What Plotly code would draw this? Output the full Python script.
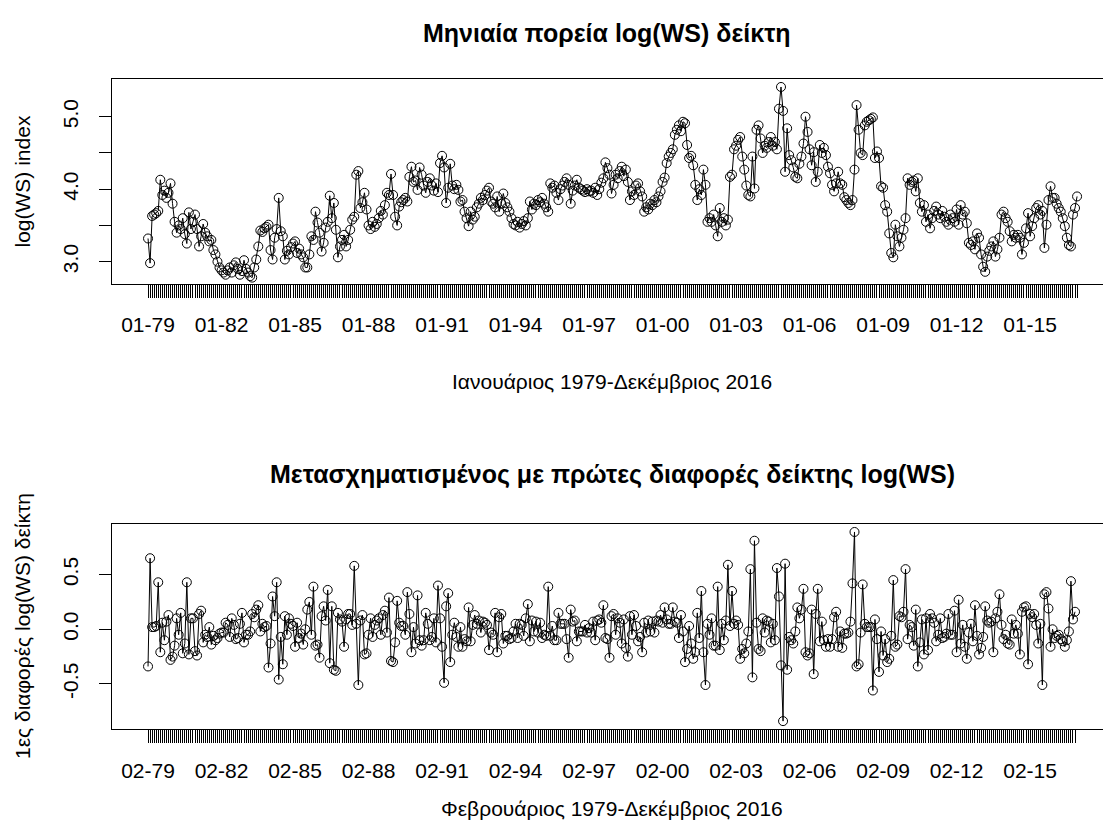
import numpy as np
import plotly.graph_objects as go

# Monthly log(WS) index, Jan 1979 - Dec 2016 (one row per year)
log_ws = [
    3.32, 2.98, 3.63, 3.65, 3.67, 3.70, 4.13, 3.92, 3.98, 3.88, 3.95, 4.08,  # 1979
    3.80, 3.55, 3.40, 3.50, 3.45, 3.60, 3.38, 3.25, 3.68, 3.45, 3.55, 3.65,  # 1980
    3.45, 3.21, 3.35, 3.52, 3.40, 3.35, 3.28, 3.30, 3.16, 3.10, 3.00, 2.92,  # 1981
    2.88, 2.85, 2.82, 2.88, 2.92, 2.85, 2.95, 2.99, 2.90, 2.82, 2.87, 3.02,  # 1982
    2.90, 2.85, 2.80, 2.78, 2.92, 3.03, 3.21, 3.43, 3.41, 3.46, 3.48, 3.51,  # 1983
    3.16, 3.03, 3.33, 3.45, 3.88, 3.42, 3.35, 3.03, 3.15, 3.10, 3.20, 3.25,  # 1984
    3.28, 3.12, 3.18, 3.10, 3.06, 2.92, 2.92, 3.10, 3.35, 3.30, 3.69, 3.54,  # 1985
    3.40, 3.14, 3.26, 3.47, 3.55, 3.91, 3.60, 3.81, 3.44, 3.06, 3.21, 3.30,  # 1986
    3.37, 3.21, 3.30, 3.44, 3.58, 3.62, 4.20, 4.25, 3.74, 3.82, 3.95, 3.72,  # 1987
    3.50, 3.45, 3.55, 3.48, 3.52, 3.60, 3.70, 3.65, 3.78, 3.95, 3.92, 4.21,  # 1988
    3.92, 3.62, 3.50, 3.76, 3.82, 3.85, 3.88, 3.83, 4.17, 4.31, 4.10, 4.12,  # 1989
    3.99, 4.30, 4.20, 4.05, 3.95, 4.10, 4.15, 4.05, 3.98, 4.08, 3.96, 4.36,  # 1990
    4.46, 4.30, 3.81, 4.02, 4.35, 4.05, 4.00, 4.06, 3.99, 3.83, 3.85, 3.69,  # 1991
    3.60, 3.49, 3.69, 3.58, 3.62, 3.75, 3.80, 3.88, 3.85, 3.92, 3.98, 4.02,  # 1992
    3.83, 3.80, 3.75, 3.90, 3.69, 3.80, 3.94, 3.81, 3.75, 3.69, 3.60, 3.52,  # 1993
    3.50, 3.55, 3.47, 3.52, 3.56, 3.50, 3.60, 3.83, 3.72, 3.80, 3.78, 3.85,  # 1994
    3.82, 3.88, 3.80, 3.75, 3.69, 4.08, 4.02, 4.05, 3.95, 3.85, 4.00, 4.05,  # 1995
    4.10, 4.15, 4.06, 3.80, 3.98, 4.05, 4.13, 4.02, 4.00, 3.98, 3.96, 4.00,  # 1996
    3.97, 3.98, 3.95, 4.02, 3.92, 4.00, 4.09, 4.15, 4.37, 4.29, 4.20, 3.94,  # 1997
    4.06, 4.20, 4.15, 4.25, 4.31, 4.18, 4.27, 4.10, 3.85, 3.97, 3.92, 4.05,  # 1998
    4.08, 3.97, 3.90, 3.69, 3.75, 3.72, 3.80, 3.78, 3.85, 3.82, 3.90, 3.97,  # 1999
    4.10, 4.16, 4.36, 4.45, 4.50, 4.55, 4.75, 4.82, 4.88, 4.80, 4.93, 4.91,  # 2000
    4.61, 4.43, 4.46, 4.33, 4.06, 3.85, 4.00, 3.92, 4.27, 4.06, 3.55, 3.60,  # 2001
    3.55, 3.65, 3.50, 3.35, 3.74, 3.55, 3.60, 3.50, 3.58, 4.17, 4.20, 4.55,  # 2002
    4.60, 4.68, 4.72, 4.45, 4.27, 4.05, 3.92, 3.90, 4.45, 4.01, 4.82, 4.88,  # 2003
    4.70, 4.50, 4.60, 4.57, 4.65, 4.72, 4.60, 4.65, 4.55, 5.11, 5.41, 5.08,  # 2004
    4.24, 4.84, 4.47, 4.40, 4.30, 4.17, 4.15, 4.35, 4.45, 4.63, 5.00, 4.79,  # 2005
    4.55, 4.33, 4.51, 4.10, 4.24, 4.61, 4.50, 4.57, 4.47, 4.31, 4.22, 4.06,  # 2006
    3.97, 4.08, 4.24, 4.08, 4.06, 3.89, 3.85, 3.81, 3.78, 3.85, 4.27, 5.16,  # 2007
    4.82, 4.50, 4.47, 4.88, 4.93, 4.95, 4.97, 4.99, 4.43, 4.52, 4.43, 4.04,  # 2008
    4.02, 3.78, 3.69, 3.39, 3.12, 3.06, 3.51, 3.35, 3.21, 3.33, 3.44, 3.60,  # 2009
    4.15, 4.06, 4.10, 4.12, 3.97, 4.15, 3.81, 3.69, 3.78, 3.55, 3.65, 3.46,  # 2010
    3.60, 3.70, 3.76, 3.65, 3.60, 3.70, 3.62, 3.55, 3.51, 3.65, 3.60, 3.55,  # 2011
    3.72, 3.51, 3.78, 3.65, 3.69, 3.53, 3.26, 3.23, 3.28, 3.17, 3.39, 3.33,  # 2012
    3.10, 2.93, 2.86, 3.07, 3.15, 3.21, 3.28, 3.07, 3.17, 3.33, 3.65, 3.69,  # 2013
    3.60, 3.55, 3.42, 3.28, 3.37, 3.33, 3.37, 3.33, 3.10, 3.26, 3.46, 3.67,  # 2014
    3.35, 3.49, 3.60, 3.74, 3.78, 3.65, 3.70, 3.19, 3.51, 3.85, 4.04, 3.88,  # 2015
    3.88, 3.80, 3.74, 3.69, 3.60, 3.49, 3.33, 3.23, 3.21, 3.65, 3.74, 3.90,  # 2016
]

# First differences (Feb 1979 - Dec 2016)
diff_ws = np.round(np.diff(log_ws), 3)

top_tick_labels = ["01-79", "01-82", "01-85", "01-88", "01-91", "01-94", "01-97",
                   "01-00", "01-03", "01-06", "01-09", "01-12", "01-15"]
bottom_tick_labels = ["02-79", "02-82", "02-85", "02-88", "02-91", "02-94", "02-97",
                      "02-00", "02-03", "02-06", "02-09", "02-12", "02-15"]
label_every = 36

top_y_ticks = [3.0, 3.5, 4.0, 4.5, 5.0]
top_y_text = ["3.0", "", "4.0", "", "5.0"]
bottom_y_ticks = [-0.5, 0.0, 0.5]
bottom_y_text = ["-0.5", "0.0", "0.5"]

W, H = 1103, 833
FONT = "Liberation Sans, Arial, sans-serif"


def month_ticks(n, labels):
    vals = list(range(n))
    text = [""] * n
    for k, lab in enumerate(labels):
        text[k * label_every] = lab
    return vals, text


x_top = list(range(len(log_ws)))
x_bot = list(range(len(diff_ws)))
top_vals, top_text = month_ticks(len(x_top), top_tick_labels)
bot_vals, bot_text = month_ticks(len(x_bot), bottom_tick_labels)

line_style = dict(color="black", width=1)
marker_style = dict(symbol="circle-open", size=9, color="black", line=dict(color="black", width=1))

fig = go.Figure()
fig.add_trace(go.Scatter(x=x_top, y=log_ws, mode="lines+markers", line=line_style,
                         marker=marker_style, xaxis="x", yaxis="y", showlegend=False))
fig.add_trace(go.Scatter(x=x_bot, y=diff_ws, mode="lines+markers", line=line_style,
                         marker=marker_style, xaxis="x2", yaxis="y2", showlegend=False))


def px_x(p):
    return p / W


def px_y(p):
    return 1 - p / H


x_range = [-17.8, 467.7]
x_common = dict(range=x_range, tickmode="array", ticks="outside", ticklen=13, tickwidth=1,
                tickcolor="black", showline=True, mirror=True, linecolor="black", linewidth=1,
                showgrid=False, zeroline=False, tickangle=0, ticklabelstandoff=9,
                tickfont=dict(family=FONT, size=21, color="black"),
                domain=[px_x(111.7), 1.0])
y_common = dict(tickmode="array", ticks="outside", ticklen=12, tickwidth=1, tickcolor="black",
                showline=True, mirror=False, linecolor="black", linewidth=1,
                showgrid=False, zeroline=False, tickangle=-90, ticklabelstandoff=12,
                tickfont=dict(family=FONT, size=21, color="black"))

fig.update_layout(
    width=W, height=H,
    margin=dict(l=0, r=0, t=0, b=0),
    paper_bgcolor="white", plot_bgcolor="white",
    xaxis=dict(**x_common, anchor="y", tickvals=top_vals, ticktext=top_text),
    yaxis=dict(**y_common, anchor="x", domain=[px_y(284), px_y(79)],
               range=[2.692, 5.52], tickvals=top_y_ticks, ticktext=top_y_text),
    xaxis2=dict(**x_common, anchor="y2", tickvals=bot_vals, ticktext=bot_text),
    yaxis2=dict(**y_common, anchor="x2", domain=[px_y(729.3), px_y(524)],
                range=[-0.915, 0.963], tickvals=bottom_y_ticks, ticktext=bottom_y_text),
)

texts = [
    ("Μηνιαία πορεία log(WS) δείκτη", 607, 33, 0, 25, True),
    ("Ιανουάριος 1979-Δεκέμβριος 2016", 612, 381, 0, 21, False),
    ("log(WS) index", 22, 181.5, -90, 21, False),
    ("Μετασχηματισμένος με πρώτες διαφορές δείκτης log(WS)", 612, 474, 0, 25, True),
    ("Φεβρουάριος 1979-Δεκέμβριος 2016", 612, 808, 0, 21, False),
    ("1ες διαφορές log(WS) δείκτη", 22, 626, -90, 21, False),
]
for txt, x, y, ang, size, bold in texts:
    fig.add_annotation(
        text=f"<b>{txt}</b>" if bold else txt,
        x=px_x(x), y=px_y(y), xref="paper", yref="paper",
        xanchor="center", yanchor="middle", textangle=ang, showarrow=False,
        font=dict(family=FONT, size=size, color="black"),
    )

fig.write_html("out.html")
